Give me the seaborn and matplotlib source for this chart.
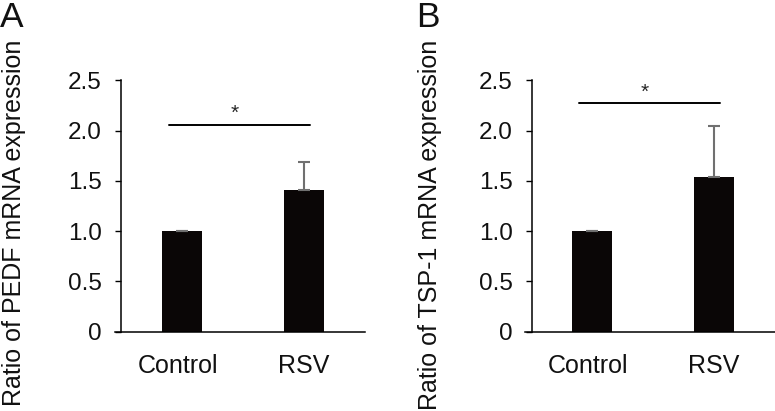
import matplotlib
matplotlib.use("Agg")
import matplotlib.pyplot as plt
import matplotlib.transforms as mtrans
import seaborn as sns
import pandas as pd
import numpy as np

groups = ["Control", "RSV"]
pedf_mean = [1.0, 1.41]
pedf_err = [0.0, 0.28]
tsp_mean = [1.0, 1.535]
tsp_err = [0.0, 0.51]
yticks = [0, 0.5, 1.0, 1.5, 2.0, 2.5]
ytick_labels = ["0", "0.5", "1.0", "1.5", "2.0", "2.5"]
panel_letters = ["A", "B"]
ylabels = ["Ratio of PEDF mRNA expression", "Ratio of TSP-1 mRNA expression"]
sig_y = [2.06, 2.27]
star_y = [2.17, 2.38]

sns.set_theme(style="white")
plt.rcParams["font.family"] = ["Liberation Sans", "DejaVu Sans"]

W, H = 775, 411
fig = plt.figure(figsize=(W / 100, H / 100), dpi=100)

def px_axes(x0, x1, ytop, ybot):
    return fig.add_axes([x0 / W, 1 - ybot / H, (x1 - x0) / W, (ybot - ytop) / H])

specs = [
    dict(x0=115, x1=365, spine=120.7, letter_x=0, ylab_x=14),
    dict(x0=525, x1=775, spine=531.7, letter_x=416, ylab_x=430),
]

for i, (means, errs) in enumerate([(pedf_mean, pedf_err), (tsp_mean, tsp_err)]):
    s = specs[i]
    ax = px_axes(s["x0"], s["x1"], 80.3, 331.7)
    df = pd.DataFrame({"group": groups, "value": means})
    sns.barplot(data=df, x="group", y="value", color="#0a0606", width=0.33,
                saturation=1, ax=ax, errorbar=None, edgecolor="none")
    xs = np.arange(len(groups))
    ax.errorbar(xs, means, yerr=[np.zeros(len(errs)), errs], fmt="none",
                ecolor="#707070", elinewidth=1.5, capsize=4, capthick=1.5, zorder=1)
    ax.set_xlim(-0.553, 1.501)
    ax.set_ylim(0, 2.5)
    ax.set_yticks(yticks)
    ax.set_yticklabels(ytick_labels)
    for sp in ["top", "right"]:
        ax.spines[sp].set_visible(False)
    for sp in ["left", "bottom"]:
        ax.spines[sp].set_color("black")
        ax.spines[sp].set_linewidth(1.1)
    ax.spines["left"].set_position(("axes", (s["spine"] - s["x0"]) / (s["x1"] - s["x0"])))
    ax.tick_params(axis="y", which="both", left=True, length=4.5, width=1.0,
                   color="black", labelsize=17.5, pad=9, direction="out",
                   labelcolor="#111111")
    ax.tick_params(axis="x", bottom=False, labelsize=18, pad=10, labelcolor="#111111")
    # Control label sits slightly left of its bar in the reference
    lab0 = ax.get_xticklabels()[0]
    lab0.set_transform(lab0.get_transform() + mtrans.ScaledTranslation(-4 / 100, 0, fig.dpi_scale_trans))
    ax.set_xlabel("")
    ax.set_ylabel(ylabels[i], fontsize=18, rotation=90, ha="right", va="center",
                  color="#111111")
    ax.yaxis.set_label_coords((s["ylab_x"] - s["x0"]) / 250, (331.7 - 40) / 251.4)
    ax.plot([-0.11, 1.05], [sig_y[i], sig_y[i]], color="black", lw=1.4)
    ax.text(0.43, star_y[i], "*", ha="center", va="center", fontsize=15)
    ax.grid(False)
    fig.text(s["letter_x"] / W, 1.0 - 1 / H, panel_letters[i], fontsize=25.5,
             ha="left", va="top", color="#111111")

fig.savefig("out.png", dpi=100)
